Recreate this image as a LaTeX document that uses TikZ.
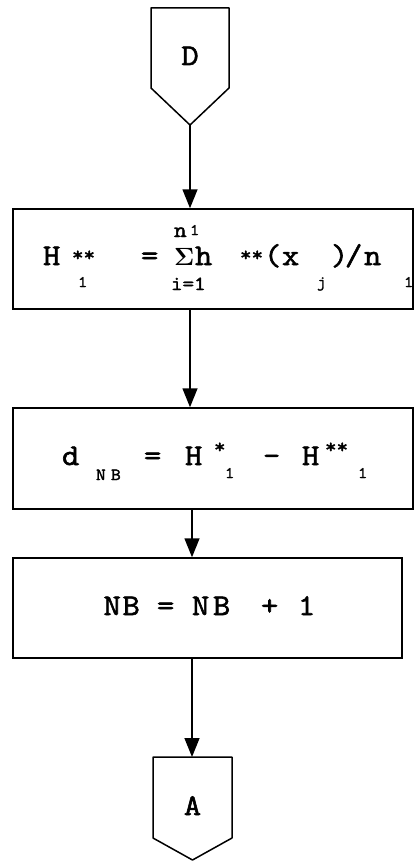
\documentclass[tikz,border=0pt]{standalone}
\usepackage{fontspec}
\usepackage{tikz}
\usetikzlibrary{arrows.meta}
\newfontfamily\prfont{Latin Modern Mono}[FakeBold=2, FakeStretch=1.12]
\newcommand{\putat}[2]{\rlap{\hspace*{#1}#2}}
\newcommand{\smtxt}[2]{{\fontsize{#1}{#1}\selectfont #2}}

\tikzset{
  procbox/.style={draw, line width=1.5pt, inner sep=0pt, text height=17pt, text depth=5pt,
    font=\prfont\fontsize{30}{30}\selectfont},
  conlbl/.style={anchor=base, inner sep=0pt, font=\prfont\fontsize{30}{30}\selectfont},
  flow/.style={line width=1.5pt, -{Triangle[length=19pt,width=15pt]}}
}

\begin{document}
\begin{tikzpicture}[x=1pt,y=-1pt]
  \useasboundingbox (0,0) rectangle (415,861);
  % connector D
  \draw[line width=1.5pt,line join=round](151,8)--(229,8)--(229,88)--(190,125)--(151,88)--cycle;
  \coordinate (dtip) at (190,125);
  \node[conlbl] (dlbl) at (190,65) {D};
  % mean of h** over the sample
  \node[procbox, minimum width=400pt, minimum height=100pt] (b1) at (213,259) {%
    \putat{0pt}{H}\putat{29pt}{\raisebox{4pt}{\smtxt{20}{**}}}\putat{35pt}{\raisebox{-22pt}{\smtxt{16}{1}}}%
    \putat{98pt}{=}%
    \putat{131pt}{\raisebox{28pt}{\smtxt{22}{n}}}\putat{147pt}{\raisebox{30pt}{\smtxt{16}{1}}}%
    \putat{131pt}{\smtxt{24}{\boldmath$\Sigma$}}\putat{152pt}{h}\putat{128pt}{\raisebox{-25pt}{\smtxt{20}{i=1}}}%
    \putat{197pt}{\raisebox{4pt}{\smtxt{20}{**}}}%
    \putat{221pt}{(}\putat{239pt}{x}\putat{274pt}{\raisebox{-22pt}{\smtxt{16}{j}}}%
    \putat{288pt}{)}\putat{302pt}{/}\putat{321pt}{n}\putat{361pt}{\raisebox{-22pt}{\smtxt{16}{1}}}%
    \hspace*{340pt}};
  % difference
  \node[procbox, text depth=4pt, minimum width=400pt, minimum height=101pt] (b2) at (213,458.5) {%
    \putat{0pt}{d}\putat{34pt}{\raisebox{-15pt}{\smtxt{17}{N}}}\putat{49pt}{\raisebox{-15pt}{\smtxt{17}{B}}}%
    \putat{82pt}{=}%
    \putat{123pt}{H}\putat{152pt}{\raisebox{12pt}{\smtxt{20}{*}}}\putat{163pt}{\raisebox{-13pt}{\smtxt{16}{1}}}%
    \putat{201pt}{-}%
    \putat{240pt}{H}\putat{263pt}{\raisebox{12pt}{\smtxt{20}{**}}}\putat{296pt}{\raisebox{-13pt}{\smtxt{16}{1}}}%
    \hspace*{302pt}};
  % counter
  \node[procbox, text depth=3pt, minimum width=389pt, minimum height=100pt] (b3) at (207.5,608) {%
    \putat{0pt}{N}\putat{19pt}{B}\putat{53.5pt}{=}\putat{88.5pt}{N}\putat{109.5pt}{B}%
    \putat{157.5pt}{+}\putat{194.5pt}{1}%
    \hspace*{208pt}};
  % connector A
  \draw[line width=1.5pt,line join=round](153,757)--(232,757)--(232,838)--(192.5,860)--(153,838)--cycle;
  \coordinate (atop) at (192,757);
  \node[conlbl] (albl) at (192.5,815) {A};
  % flow
  \draw[flow] (dtip) -- (dtip |- b1.north);
  \draw[flow] (b1.south -| dtip) -- (b2.north -| dtip);
  \draw[flow] (b2.south -| atop) -- (b3.north -| atop);
  \draw[flow] (b3.south -| atop) -- (atop);
\end{tikzpicture}
\end{document}
